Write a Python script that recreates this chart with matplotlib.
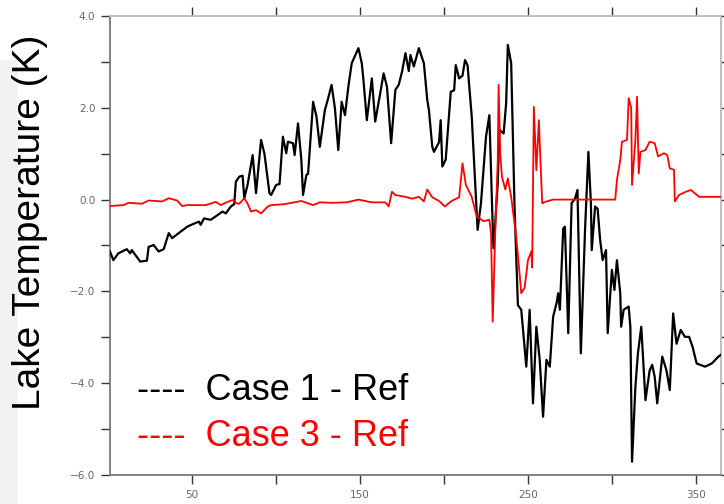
import matplotlib
matplotlib.use("Agg")
from matplotlib import pyplot as plt
from matplotlib.patches import Rectangle
import numpy as np

# Case 1 - Ref (black)
case1_day = [1, 3, 6, 11, 13, 14, 16, 19, 23, 24, 27, 30, 33, 36, 38, 42, 47, 50, 54, 55,
             57, 61, 65, 68, 70, 73, 75, 76, 78, 80, 81, 83, 86, 88, 91, 93, 96, 97, 100, 102,
             104, 106, 107, 110, 111, 113, 115, 116, 118, 119, 122, 124, 126, 129, 131, 133, 135, 137, 139, 141,
             143, 145, 149, 151, 152, 154, 157, 159, 162, 164, 166, 168.5, 171, 173, 175, 177, 179, 180, 182, 185,
             188, 190, 191, 193, 194, 197, 198, 199, 201, 204, 206, 207, 209, 211, 212.5, 214, 216.5, 220, 222, 225,
             227, 229, 229.5, 232, 233, 235.5, 237, 238, 240, 242, 244, 246, 249, 251, 253, 255, 257, 259, 261, 263,
             265, 267, 268, 269, 271, 272, 274, 276, 278, 279.5, 281.5, 284, 286, 287.5, 288, 290, 291.5, 293, 294.5, 296.5,
             297.5, 300, 301.5, 303, 305, 305.5, 307, 310, 311, 312, 314, 315.5, 317.5, 320, 322.5, 324, 325.5, 327, 330, 332.5,
             334.5, 336.5, 338.5, 341, 343.5, 346, 348, 350.5, 355.5, 359.5, 363.5, 365]
case1_val = [-1.13, -1.32, -1.17, -1.08, -1.17, -1.10, -1.20, -1.35, -1.33, -1.03, -0.99, -1.13, -1.08, -0.73, -0.84, -0.73, -0.59, -0.54, -0.48, -0.55,
             -0.41, -0.44, -0.34, -0.26, -0.30, -0.15, -0.10, 0.39, 0.50, 0.52, 0.03, 0.33, 0.97, 0.14, 1.30, 1.00, 0.14, 0.10, 0.32, 0.34,
             1.37, 1.01, 1.26, 1.23, 0.97, 1.66, 0.86, 0.10, 0.54, 0.56, 2.13, 1.81, 1.15, 1.95, 2.21, 2.50, 1.99, 1.08, 2.13, 1.84,
             2.46, 2.97, 3.30, 2.97, 2.60, 1.73, 2.64, 1.70, 2.32, 2.75, 2.46, 1.23, 2.39, 2.50, 2.79, 3.19, 2.80, 3.15, 2.90, 3.30,
             2.97, 2.17, 1.95, 1.15, 1.04, 1.25, 1.73, 0.72, 0.87, 2.35, 2.38, 2.93, 2.64, 2.70, 3.04, 2.93, 1.81, -0.66, -0.08, 1.37,
             1.84, -0.59, -1.06, 0.36, 1.52, 1.44, 2.10, 3.37, 2.97, -0.15, -2.30, -2.40, -3.64, -2.40, -4.44, -2.77, -3.49, -4.73, -3.49, -3.64,
             -2.55, -2.26, -2.04, -2.40, -0.63, -0.59, -2.91, -0.08, 0.02, 0.21, -3.35, -0.66, 1.04, -0.08, -1.10, -0.15, -0.20, -0.88, -1.32, -1.10,
             -2.91, -1.53, -1.97, -1.32, -2.05, -2.77, -2.40, -2.33, -2.77, -5.71, -4.08, -3.35, -2.77, -4.37, -3.72, -3.60, -3.86, -4.44, -3.42, -3.72,
             -4.15, -2.48, -3.14, -2.84, -2.99, -2.99, -3.20, -3.57, -3.64, -3.57, -3.42, -3.38]

# Case 3 - Ref (red)
case3_day = [1, 9, 12, 20, 24, 32, 36, 41, 44, 47, 58, 64, 67, 71, 74, 77, 78, 81, 83, 85,
             88, 91, 95, 97, 105, 115, 122, 126, 133, 142, 149, 157, 165, 167, 169, 171, 177, 181, 185, 188,
             190, 193, 197, 200.5, 204.5, 209, 211, 213, 216.5, 219.5, 223.5, 227, 228, 229, 230.5, 232, 232.5, 233.5, 234.5, 236.5,
             238, 240, 243, 245, 246, 248, 250, 252, 252.5, 253.5, 255, 256.5, 257.5, 258.5, 261, 265, 275, 302, 303, 305,
             306, 309, 310, 311.5, 312, 314, 315, 316, 317, 320, 322.5, 325.5, 327.5, 331, 333, 334.5, 337, 337.5, 340, 344,
             347, 352, 358, 365]
case3_val = [-0.14, -0.12, -0.07, -0.09, -0.02, -0.04, 0.03, -0.02, -0.14, -0.12, -0.12, -0.05, -0.12, -0.05, -0.01, -0.09, -0.09, 0.03, -0.09, -0.26,
             -0.23, -0.30, -0.15, -0.12, -0.10, -0.03, -0.12, -0.06, -0.07, -0.06, 0.00, -0.06, -0.06, -0.15, 0.17, 0.10, 0.06, 0.02, 0.06, -0.04,
             0.22, 0.05, -0.03, -0.15, -0.03, 0.05, 0.79, 0.32, 0.06, -0.37, -0.47, -0.44, -0.73, -2.66, -0.73, 0.86, 2.50, 0.98, 0.50, 0.22,
             0.46, 0.06, -0.81, -1.61, -2.04, -1.92, -1.32, -1.13, -1.48, 2.02, 0.64, 1.73, 0.79, -0.08, -0.04, 0.00, 0.00, 0.00, 0.43, 0.86,
             1.26, 1.30, 2.21, 2.00, 0.32, 1.30, 2.24, 0.57, 1.04, 1.08, 1.26, 1.23, 0.94, 1.01, 0.97, 0.68, 0.65, -0.04, 0.10, 0.17,
             0.21, 0.06, 0.06, 0.06]

x_major = [50, 150, 250, 350]
x_minor = [100, 200, 300]
y_major = [4.0, 2.0, 0.0, -2.0, -4.0, -6.0]
y_minor = [3.0, 1.0, -1.0, -3.0, -5.0]

plt.rcParams['font.family'] = ['Liberation Sans', 'DejaVu Sans']

fig = plt.figure(figsize=(7.24, 5.04), dpi=100)
fig.patches.append(Rectangle((0, 0), 18/724, 444/504, transform=fig.transFigure,
                             facecolor='#f2f2f2', edgecolor='none', zorder=0))

ax = fig.add_axes([110/724, 29/504, 611/724, 459/504])
ax.plot(case1_day, case1_val, color='black', lw=1.6, zorder=3)
ax.plot(case3_day, case3_val, color='red', lw=1.3, zorder=4)

ax.set_xlim(1, 365)
ax.set_ylim(-6, 4)
ax.set_xticks(x_major)
ax.set_xticks(x_minor, minor=True)
ax.set_yticks(y_major)
ax.set_yticks(y_minor, minor=True)
ax.set_xticklabels([str(v) for v in x_major], family='DejaVu Sans')
ax.set_yticklabels(["%.1f" % v if v >= 0 else "\u2212%.1f" % abs(v) for v in y_major], family='DejaVu Sans')
ax.tick_params(which='both', direction='out', length=6.5, width=1, color='#333333',
               top=True, right=True, labelsize=7.5, labelcolor='#666666', pad=4)

for side in ['left', 'bottom']:
	ax.spines[side].set_color('#777777')
	ax.spines[side].set_linewidth(1.3)
for side in ['top', 'right']:
	ax.spines[side].set_color('#bbbbbb')
	ax.spines[side].set_linewidth(1.3)

fig.text(30/724, 1 - 222/504, "Lake Temperature (K)", rotation=90, fontsize=28,
         ha='center', va='center', color='black')
fig.text(137/724, 1 - 390/504, "----  Case 1 - Ref", fontsize=26, color='black', va='center')
fig.text(137/724, 1 - 437/504, "----  Case 3 - Ref", fontsize=26, color='red', va='center')

plt.savefig("out.png", dpi=100)
